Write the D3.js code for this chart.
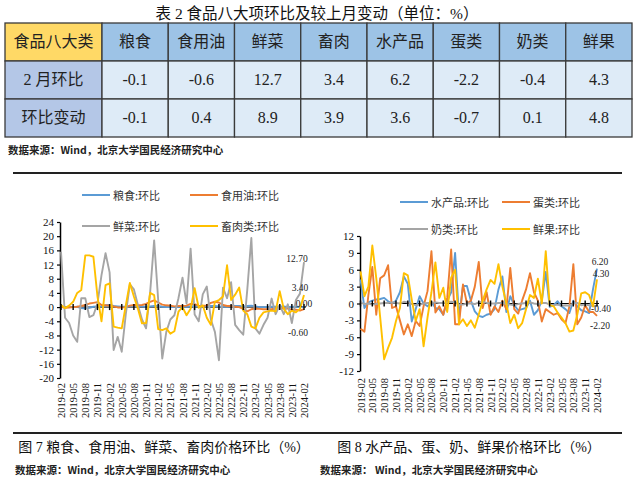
<!DOCTYPE html>
<html>
<head>
<meta charset="utf-8">
<script src="https://cdn.jsdelivr.net/npm/d3@7"></script>
<style>
  body { margin: 0; background: #fff; }
  svg { display: block; }
</style>
</head>
<body>
<svg id="page" width="640" height="482"></svg>
<script>
// ---- table data
var headCell = "食品八大类";
var foodNames = ["粮食", "食用油", "鲜菜", "畜肉", "水产品", "蛋类", "奶类", "鲜果"];
var rowNames = ["2 月环比", "环比变动"];
var febMoM = [-0.1, -0.6, 12.7, 3.4, 6.2, -2.2, -0.4, 4.3];
var momChange = [-0.1, 0.4, 8.9, 3.9, 3.6, -0.7, 0.1, 4.8];

// ---- chart data, monthly 2019-02 .. 2024-02
var months = d3.utcMonths(new Date(Date.UTC(2019, 1, 1)), new Date(Date.UTC(2024, 2, 1))).map(d3.utcFormat("%Y-%m"));
var tickLabels = ["2019-02", "2019-05", "2019-08", "2019-11", "2020-02", "2020-05", "2020-08", "2020-11",
  "2021-02", "2021-05", "2021-08", "2021-11", "2022-02", "2022-05", "2022-08", "2022-11",
  "2023-02", "2023-05", "2023-08", "2023-11", "2024-02"];

var grain = [0.1, 0.0, 0.0, 0.0, 0.1, -0.3, -0.4, -0.2, 0.1, 0.2, 0.2, 0.5, 0.6, 0.3, 0.2, 0.1, 0.1, 0.2, 0.3, 0.3, 0.2, 0.1, 0.2,
  0.3, 0.3, 0.1, 0.0, 0.0, 0.0, 0.1, 0.1, 0.1, 0.2, 0.3, 0.2, 0.2, 0.2, 0.3, 0.3, 0.2, 0.1, 0.1, 0.3, 0.3, 0.3, 0.2, 0.3,
  0.4, 0.2, 0.0, 0.0, 0.0, 0.1, 0.1, 0.2, 0.2, 0.0, 0.1, 0.1, 0.0, 0.0];
var oil = [0.1, -0.2, -0.1, 0.0, 0.1, 0.3, 0.6, 1.0, 1.2, 1.4, 0.6, 0.5, 0.4, 0.2, -0.1, -0.1, 0.0, 0.4, 0.6, 0.5, 0.6, 0.9, 1.5,
  1.9, 1.3, 0.7, 0.5, 0.4, 0.2, 0.3, 0.3, 0.4, 0.9, 0.8, 0.4, 0.3, 0.5, 1.2, 1.5, 1.3, 0.6, 0.3, 0.3, 0.1, 0.0, -0.5, -1.2,
  -0.6, -0.4, -0.5, -0.6, -0.6, -0.6, -0.4, -0.4, -0.2, -0.4, -0.8, -0.7, -1.0, -0.6];
var veg = [15.6, -3.0, -4.5, -8.0, -9.8, 2.5, 2.5, -2.8, -2.3, 1.0, 9.0, 15.2, 9.8, -12.1, -8.4, -12.6, -2.0, 6.4, 5.0, 0.5, -3.5, -6.0, 4.0,
  18.8, 2.0, -14.5, -7.0, -3.5, -2.3, 2.5, 8.3, 1.0, 16.5, -2.1, -4.0, 3.6, 5.8, -3.5, -7.0, -15.0, 5.5, 2.5, 7.0, -5.0, -6.5, -7.8, 5.0,
  19.5, -6.0, -7.5, -5.0, -3.0, 2.4, -2.0, 0.6, -2.0, 0.8, -4.5, 2.0, 3.8, 12.7];
var meat = [0.6, -0.3, 0.4, 1.5, 4.0, 4.8, 14.6, 14.6, 14.2, 3.0, -4.0, 6.2, 6.7, -5.5, -5.8, -6.0, 0.5, 6.8, 3.0, -0.5, -4.6, -4.5, 4.0,
  3.4, -6.2, -6.5, -6.0, -7.5, -6.8, -1.3, 0.0, -2.3, -0.5, 5.3, -0.2, 0.5, -3.0, -5.0, 1.5, 2.0, 3.0, 11.8, 2.0, 3.5, 5.5, -1.0, -2.0,
  -5.5, -6.0, -3.0, -1.5, -1.2, -1.0, -1.2, 4.5, -0.5, -2.0, -1.0, -1.5, -0.5, 3.4];

var aquatic = [4.3, -0.8, 0.2, 0.5, 0.7, 0.8, 1.0, 0.4, 0.0, 0.5, 2.0, 4.8, 3.5, -3.2, -1.0, 1.3, 0.0, -0.5, 0.3, -0.8, -1.0, -2.0, 0.5,
  2.0, 9.0, -2.5, 3.1, 3.1, 0.5, -1.4, -2.2, -2.4, -2.0, -1.8, -1.0, 2.5, 4.8, -1.5, 1.3, -0.3, -1.2, -1.0, -0.8, 0.5, -2.0, -1.2, 0.5,
  5.6, -0.6, -0.3, 0.4, -0.5, -1.0, -1.7, 0.5, -0.5, -1.2, -1.4, -1.7, 2.6, 6.2];
var eggs = [-4.5, -5.0, 1.5, 6.5, -2.0, 4.5, 5.0, 6.8, -0.8, -0.5, -3.0, -5.5, -3.7, -5.8, -3.1, -4.0, -0.5, 2.2, 9.3, -1.6, -0.5, -2.0, 1.0,
  9.6, -3.7, -3.7, 3.4, 0.0, 0.5, 3.0, 7.4, -0.8, 2.0, -2.0, -0.5, -1.5, 0.5, -1.0, 6.3, -1.0, -1.8, 0.5, 2.5, 5.4, 2.0, 0.5, -3.2,
  -1.0, -1.5, -2.0, -1.7, -2.8, -3.5, -0.5, 7.0, -3.7, -2.5, -0.3, -1.5, -1.5, -2.2];
var milk = [0.2, -0.1, 0.0, -0.2, -0.1, 0.0, 0.1, 0.1, 0.2, 0.1, 0.0, 0.3, 0.2, -0.1, -0.3, -0.2, 0.0, 0.1, 0.1, 0.2, 0.1, 0.1, 0.2,
  0.3, 0.2, -0.2, -0.2, 0.0, 0.0, -0.1, 0.2, 0.3, 0.1, 0.0, 0.0, 0.1, 0.1, -0.1, -0.2, -0.3, -0.1, 0.0, 0.1, 0.2, 0.0, -0.1, 0.1,
  0.1, -0.2, -0.3, -0.2, -0.4, -0.3, -0.4, 0.0, 0.1, -0.3, -0.2, -0.3, -0.5, -0.4];
var fruit = [5.7, 1.3, 3.0, 10.3, 4.5, -2.5, -9.9, -7.9, -6.1, -3.1, -0.8, 5.4, 5.0, 0.7, -3.1, -1.0, -7.6, -2.5, 2.0, 7.3, 1.0, 2.8, -1.5,
  4.6, 6.0, -3.7, -2.8, -4.0, -3.0, -4.3, -2.0, 0.5, 2.5, 4.2, 3.5, 7.0, 3.0, 0.0, -3.5, -2.0, -4.4, -3.5, -1.0, 1.5, 1.0, 4.4, 0.0,
  9.3, -0.3, -0.5, -1.6, -2.5, -3.5, -5.0, -4.8, -2.0, 1.8, 2.0, 1.5, -0.5, 4.3];

var BLUE = "#5b9bd5", ORANGE = "#ed7d31", GRAY = "#a5a5a5", GOLD = "#ffc000";
var SERIF = "'Liberation Serif','Noto Sans CJK SC',serif";
var CJK = "'Noto Sans CJK SC','Liberation Sans',sans-serif";

// plain hyphen minus, like the original
var fmt1 = function(v) { return v.toFixed(1); };
var fmt2 = function(v) { return v.toFixed(2); };

var svg = d3.select("#page");

// ================= table
svg.append("text")
  .attr("x", 317).attr("y", 19)
  .attr("text-anchor", "middle")
  .style("font-family", SERIF).style("font-size", "15.5px").attr("fill", "#111")
  .text("表 2  食品八大项环比及较上月变动（单位：%）");

var colX = [5, 102];
foodNames.forEach(function(d, i) { colX.push(102 + (i + 1) * 66.25); });
var rowY = [23, 61, 99, 137];

var cells = [];
cells.push({ r: 0, c: 0, text: headCell, fill: "#ffd966", font: CJK });
foodNames.forEach(function(d, i) { cells.push({ r: 0, c: i + 1, text: d, fill: "#9dc3e6", font: CJK }); });
[febMoM, momChange].forEach(function(row, ri) {
  cells.push({ r: ri + 1, c: 0, text: rowNames[ri], fill: "#b4c7e7", font: SERIF });
  row.forEach(function(v, i) { cells.push({ r: ri + 1, c: i + 1, text: fmt1(v), fill: "#deebf7", font: SERIF }); });
});

var cellG = svg.append("g").selectAll("g").data(cells).enter().append("g");
cellG.append("rect")
  .attr("x", function(d) { return colX[d.c]; })
  .attr("y", function(d) { return rowY[d.r]; })
  .attr("width", function(d) { return colX[d.c + 1] - colX[d.c]; })
  .attr("height", function(d) { return rowY[d.r + 1] - rowY[d.r]; })
  .attr("fill", function(d) { return d.fill; })
  .attr("stroke", "#3a3a3a").attr("stroke-width", 1.3);
cellG.append("text")
  .attr("x", function(d) { return (colX[d.c] + colX[d.c + 1]) / 2; })
  .attr("y", function(d) { return (rowY[d.r] + rowY[d.r + 1]) / 2 + 1; })
  .attr("text-anchor", "middle").attr("dominant-baseline", "middle")
  .style("font-family", function(d) { return d.font; })
  .style("font-size", "16px").attr("fill", "#222")
  .text(function(d) { return d.text; });

svg.append("text")
  .attr("x", 8).attr("y", 154)
  .style("font-family", CJK).style("font-size", "10.5px").style("font-weight", "bold").attr("fill", "#222")
  .text("数据来源：Wind，北京大学国民经济研究中心");

// ================= rules + captions
[173, 433].forEach(function(y) {
  svg.append("line").attr("x1", 13).attr("x2", 622).attr("y1", y).attr("y2", y)
    .attr("stroke", "#222").attr("stroke-width", 2);
});

svg.append("text").attr("x", 164).attr("y", 452).attr("text-anchor", "middle")
  .style("font-family", SERIF).style("font-size", "14px").attr("fill", "#111")
  .text("图 7  粮食、食用油、鲜菜、畜肉价格环比（%）");
svg.append("text").attr("x", 469).attr("y", 452).attr("text-anchor", "middle")
  .style("font-family", SERIF).style("font-size", "14px").attr("fill", "#111")
  .text("图 8 水产品、蛋、奶、鲜果价格环比（%）");
svg.append("text").attr("x", 15).attr("y", 474)
  .style("font-family", CJK).style("font-size", "10.5px").style("font-weight", "bold").attr("fill", "#222")
  .text("数据来源：Wind，北京大学国民经济研究中心");
svg.append("text").attr("x", 320).attr("y", 474)
  .style("font-family", CJK).style("font-size", "10.5px").style("font-weight", "bold").attr("fill", "#222")
  .text("数据来源：  Wind，北京大学国民经济研究中心");

// ================= line charts
function drawChart(cfg) {
  var g = svg.append("g");

  var x = d3.scalePoint().domain(months).range(cfg.xRange);
  var y = d3.scaleLinear().domain(cfg.yDomain).range(cfg.yRange);

  // y axis
  var yAxis = d3.axisLeft(y).tickValues(cfg.yTicks).tickFormat(function(d) { return String(d); })
    .tickSize(3).tickSizeOuter(0).tickPadding(3);
  var ya = g.append("g")
    .attr("transform", "translate(" + cfg.axisX + ",0)")
    .call(yAxis);
  ya.select(".domain").attr("stroke", "#000").attr("stroke-width", 1.5);
  ya.selectAll(".tick line").attr("stroke", "#000").attr("stroke-width", 1.2);
  ya.selectAll("text").style("font-family", SERIF).style("font-size", "11px").attr("fill", "#111");

  // zero axis line (under the series)
  g.append("line")
    .attr("x1", cfg.axisX).attr("x2", cfg.xRange[1] + 2)
    .attr("y1", y(0)).attr("y2", y(0))
    .attr("stroke", "#000").attr("stroke-width", 1);

  var line = d3.line()
    .x(function(d, i) { return x(months[i]); })
    .y(function(d) { return y(d); });

  cfg.series.forEach(function(s) {
    g.append("path")
      .datum(s.values)
      .attr("fill", "none")
      .attr("stroke", s.color)
      .attr("stroke-width", 1.9)
      .attr("stroke-linejoin", "round")
      .attr("d", line);
  });

  // tick crosses on the zero line
  g.selectAll(".xt").data(tickLabels).enter().append("line")
    .attr("x1", function(d) { return x(d); }).attr("x2", function(d) { return x(d); })
    .attr("y1", y(0) - 3).attr("y2", y(0) + 3)
    .attr("stroke", "#000").attr("stroke-width", 1.4);

  // x labels at the bottom
  g.selectAll(".xl").data(tickLabels).enter().append("text")
    .attr("transform", function(d) { return "translate(" + (x(d) + 0.5) + "," + cfg.labelTop + ") rotate(-90)"; })
    .attr("text-anchor", "end").attr("dominant-baseline", "central")
    .style("font-family", SERIF).style("font-size", "10.5px").attr("fill", "#111")
    .text(function(d) { return d; });

  // end labels
  cfg.series.forEach(function(s) {
    var last = s.values[s.values.length - 1];
    g.append("text")
      .attr("x", x(months[months.length - 1]) + s.dx)
      .attr("y", y(last) + s.dy)
      .attr("text-anchor", "middle").attr("dominant-baseline", "central")
      .style("font-family", SERIF).style("font-size", "9.5px").attr("fill", "#222")
      .text(fmt2(last));
  });

  // legend, 2 x 2
  cfg.series.forEach(function(s, i) {
    var lx = cfg.legendX[i % 2], ly = cfg.legendY[Math.floor(i / 2)];
    g.append("line").attr("x1", lx).attr("x2", lx + 28).attr("y1", ly).attr("y2", ly)
      .attr("stroke", s.color).attr("stroke-width", 2);
    g.append("text").attr("x", lx + 31).attr("y", ly).attr("dominant-baseline", "central")
      .style("font-family", CJK).style("font-size", "11px").attr("fill", "#333")
      .text(s.name);
  });
}

drawChart({
  xRange: [61, 304], yDomain: [-20, 24], yRange: [378, 222],
  yTicks: d3.range(-20, 25, 4), axisX: 60, labelTop: 383,
  legendX: [82, 190], legendY: [195, 226],
  series: [
    { name: "粮食:环比", values: grain, color: BLUE, dx: 0, dy: -3 },
    { name: "食用油:环比", values: oil, color: ORANGE, dx: -6, dy: 24 },
    { name: "鲜菜:环比", values: veg, color: GRAY, dx: -7, dy: -3 },
    { name: "畜肉类:环比", values: meat, color: GOLD, dx: -4, dy: -7 }
  ]
});

drawChart({
  xRange: [360.5, 597], yDomain: [-12, 12], yRange: [371, 236],
  yTicks: d3.range(-12, 13, 3), axisX: 360, labelTop: 378,
  legendX: [400, 502], legendY: [202, 229],
  series: [
    { name: "水产品:环比", values: aquatic, color: BLUE, dx: 3, dy: -7 },
    { name: "蛋类:环比", values: eggs, color: ORANGE, dx: 3, dy: 10 },
    { name: "奶类:环比", values: milk, color: GRAY, dx: 4, dy: 3 },
    { name: "鲜果:环比", values: fruit, color: GOLD, dx: 4, dy: -5 }
  ]
});
</script>
</body>
</html>
